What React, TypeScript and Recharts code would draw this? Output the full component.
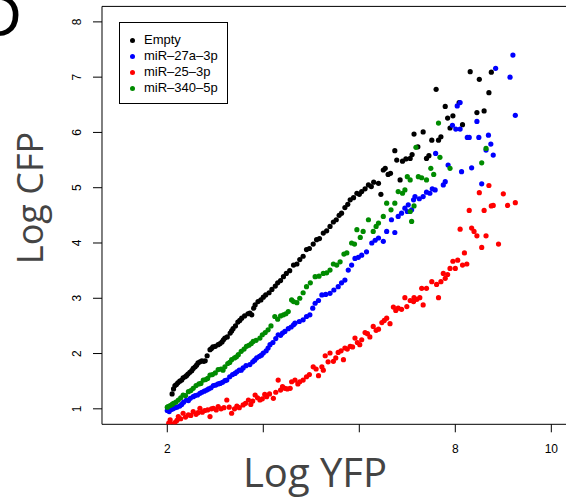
import { ReferenceArea, Scatter, ScatterChart, XAxis, YAxis } from "recharts";

type Pt = [number, number];

// log YFP / log CFP readings per construct
const emptyPts: Pt[] = [
  [2.10, 1.27], [2.13, 1.36], [2.16, 1.42], [2.19, 1.44], [2.22, 1.47], [2.26, 1.50], [2.30, 1.52], [2.33, 1.56],
  [2.37, 1.58], [2.40, 1.60], [2.43, 1.63], [2.47, 1.66], [2.51, 1.69], [2.54, 1.73], [2.58, 1.76], [2.61, 1.79],
  [2.64, 1.83], [2.68, 1.85], [2.72, 1.87], [2.76, 1.86], [2.79, 1.87], [2.83, 1.96], [2.89, 2.07], [2.92, 2.09],
  [2.95, 2.12], [3.00, 2.13], [3.06, 2.16], [3.10, 2.18], [3.14, 2.21], [3.17, 2.25], [3.20, 2.28], [3.25, 2.30],
  [3.31, 2.37], [3.34, 2.41], [3.37, 2.45], [3.42, 2.50], [3.47, 2.57], [3.51, 2.60], [3.55, 2.64], [3.61, 2.68],
  [3.68, 2.72], [3.72, 2.73], [3.76, 2.70], [3.80, 2.82], [3.83, 2.88], [3.89, 2.94], [3.95, 2.97], [4.00, 3.02],
  [4.05, 3.06], [4.12, 3.10], [4.18, 3.16], [4.25, 3.22], [4.30, 3.28], [4.36, 3.32], [4.42, 3.39], [4.48, 3.45],
  [4.55, 3.50], [4.63, 3.60], [4.70, 3.62], [4.76, 3.70], [4.83, 3.76], [4.90, 3.88], [4.96, 3.90], [5.04, 3.98],
  [5.11, 4.06], [5.17, 4.08], [5.25, 4.18], [5.32, 4.22], [5.39, 4.30], [5.46, 4.38], [5.52, 4.42], [5.58, 4.50],
  [5.63, 4.54], [5.70, 4.64], [5.76, 4.70], [5.81, 4.78], [5.88, 4.82], [5.95, 4.90], [6.00, 4.88], [6.05, 4.93],
  [6.12, 4.98], [6.19, 5.05], [6.25, 5.02], [6.30, 5.10], [6.40, 5.08], [6.45, 4.88], [6.50, 5.32], [6.54, 5.35],
  [6.60, 5.24], [6.65, 5.26], [6.74, 5.67], [6.78, 5.50], [6.85, 5.14], [6.90, 5.48], [6.97, 5.52], [7.06, 5.53],
  [7.10, 5.60], [7.14, 5.97], [7.22, 5.74], [7.33, 6.01], [7.40, 5.53], [7.45, 5.58], [7.51, 5.86], [7.60, 6.78],
  [7.65, 5.86], [7.70, 5.92], [7.79, 6.47], [7.84, 6.26], [7.89, 6.08], [7.95, 6.30], [8.08, 6.54], [8.15, 6.14],
  [8.31, 7.10], [8.45, 6.36], [8.50, 6.96], [8.60, 6.39], [8.70, 6.72], [8.75, 7.09],
];

const mir27aPts: Pt[] = [
  [2.00, 0.97], [2.04, 0.95], [2.08, 0.99], [2.12, 1.00], [2.16, 1.02], [2.20, 1.03], [2.26, 1.05], [2.30, 1.08],
  [2.34, 1.12], [2.40, 1.16], [2.44, 1.15], [2.48, 1.19], [2.54, 1.22], [2.58, 1.24], [2.63, 1.25], [2.68, 1.28],
  [2.72, 1.30], [2.77, 1.32], [2.82, 1.34], [2.86, 1.36], [2.91, 1.38], [2.96, 1.42], [3.01, 1.43], [3.06, 1.45],
  [3.10, 1.46], [3.15, 1.48], [3.20, 1.51], [3.24, 1.52], [3.30, 1.58], [3.36, 1.62], [3.41, 1.64], [3.45, 1.67],
  [3.50, 1.70], [3.54, 1.70], [3.58, 1.74], [3.64, 1.78], [3.72, 1.80], [3.78, 1.85], [3.82, 1.88], [3.86, 1.92],
  [3.92, 1.95], [3.96, 1.97], [4.00, 2.01], [4.06, 2.05], [4.10, 2.10], [4.14, 2.16], [4.20, 2.20], [4.26, 2.27],
  [4.31, 2.34], [4.36, 2.33], [4.40, 2.37], [4.45, 2.40], [4.52, 2.45], [4.58, 2.48], [4.63, 2.52], [4.66, 2.55],
  [4.75, 2.58], [4.83, 2.61], [4.90, 2.67], [4.97, 2.70], [5.03, 2.82], [5.08, 2.91], [5.15, 2.96], [5.22, 3.06],
  [5.30, 3.07], [5.39, 3.09], [5.47, 3.15], [5.56, 3.21], [5.63, 3.28], [5.70, 3.33], [5.77, 3.51], [5.84, 3.60],
  [5.91, 3.72], [5.98, 3.74], [6.05, 3.78], [6.15, 3.84], [6.26, 4.00], [6.33, 4.05], [6.40, 4.09], [6.50, 4.03],
  [6.57, 4.21], [6.67, 4.42], [6.74, 4.19], [6.81, 4.48], [6.88, 4.54], [6.95, 4.63], [7.00, 4.57], [7.02, 4.69],
  [7.09, 4.60], [7.13, 4.78], [7.16, 4.84], [7.25, 4.80], [7.33, 4.84], [7.40, 4.92], [7.47, 4.90], [7.52, 4.98],
  [7.58, 4.96], [7.59, 5.62], [7.75, 5.05], [7.79, 5.11], [7.85, 5.41], [7.94, 6.13], [8.01, 6.06], [8.04, 6.48],
  [8.10, 6.06], [8.10, 6.54], [8.13, 5.29], [8.25, 5.91], [8.29, 5.91], [8.34, 5.36], [8.45, 6.20], [8.49, 5.91],
  [8.55, 5.07], [8.64, 5.68], [8.69, 5.95], [8.74, 5.79], [8.79, 5.59], [8.84, 7.16], [9.14, 7.00], [9.20, 7.40],
  [9.25, 6.31],
];

const mir25Pts: Pt[] = [
  [2.03, 0.74], [2.06, 0.80], [2.10, 0.72], [2.16, 0.75], [2.20, 0.79], [2.23, 0.86], [2.28, 0.82], [2.33, 0.92],
  [2.38, 0.85], [2.44, 0.89], [2.49, 0.88], [2.54, 0.95], [2.60, 0.90], [2.64, 0.93], [2.68, 1.01], [2.73, 0.94],
  [2.78, 0.97], [2.84, 0.98], [2.89, 0.86], [2.92, 1.00], [2.96, 1.01], [3.02, 0.98], [3.06, 1.04], [3.12, 1.00],
  [3.18, 1.02], [3.24, 1.16], [3.29, 1.03], [3.34, 0.92], [3.40, 1.00], [3.45, 1.05], [3.50, 1.02], [3.58, 1.07],
  [3.63, 1.10], [3.69, 1.16], [3.74, 1.08], [3.78, 1.14], [3.83, 1.25], [3.88, 1.20], [3.93, 1.16], [3.98, 1.18],
  [4.03, 1.26], [4.07, 1.22], [4.13, 1.27], [4.21, 1.19], [4.26, 1.30], [4.31, 1.52], [4.36, 1.34], [4.40, 1.40],
  [4.45, 1.37], [4.50, 1.36], [4.56, 1.37], [4.59, 1.49], [4.66, 1.52], [4.72, 1.45], [4.76, 1.49], [4.83, 1.52],
  [4.90, 1.58], [4.96, 1.62], [5.04, 1.76], [5.10, 1.72], [5.15, 1.60], [5.22, 1.76], [5.25, 1.70], [5.29, 1.96],
  [5.35, 1.85], [5.39, 2.01], [5.46, 1.86], [5.51, 1.92], [5.56, 2.02], [5.62, 2.05], [5.67, 1.89], [5.70, 2.10],
  [5.75, 2.08], [5.81, 2.13], [5.86, 2.12], [5.91, 2.28], [5.96, 2.20], [6.01, 2.16], [6.05, 2.25], [6.12, 2.38],
  [6.17, 2.36], [6.22, 2.30], [6.29, 2.49], [6.35, 2.42], [6.40, 2.44], [6.47, 2.56], [6.52, 2.60], [6.57, 2.64],
  [6.64, 2.54], [6.71, 2.84], [6.76, 2.78], [6.81, 2.82], [6.88, 2.80], [6.95, 3.01], [6.99, 2.85], [7.06, 2.96],
  [7.13, 2.94], [7.14, 3.01], [7.20, 2.98], [7.26, 3.01], [7.30, 3.18], [7.33, 2.88], [7.40, 3.18], [7.51, 3.30],
  [7.61, 3.25], [7.65, 3.01], [7.70, 3.30], [7.75, 3.45], [7.79, 3.36], [7.84, 3.43], [7.89, 3.54], [7.95, 3.67],
  [8.00, 3.54], [8.05, 3.69], [8.15, 3.60], [8.19, 3.82], [8.24, 3.62], [8.10, 4.25], [8.29, 4.59], [8.34, 4.27],
  [8.39, 4.21], [8.45, 4.13], [8.50, 4.91], [8.55, 3.92], [8.60, 4.59], [8.64, 4.13], [8.70, 5.04], [8.75, 4.67],
  [8.79, 4.68], [8.90, 3.98], [9.00, 4.89], [9.09, 4.68], [9.25, 4.73],
];

const mir340Pts: Pt[] = [
  [2.00, 1.03], [2.02, 1.04], [2.06, 1.06], [2.10, 1.08], [2.13, 1.10], [2.18, 1.12], [2.23, 1.16], [2.28, 1.20],
  [2.33, 1.25], [2.38, 1.24], [2.44, 1.31], [2.49, 1.33], [2.54, 1.37], [2.60, 1.42], [2.66, 1.45], [2.70, 1.46],
  [2.75, 1.52], [2.80, 1.53], [2.84, 1.55], [2.89, 1.61], [2.94, 1.62], [3.00, 1.65], [3.06, 1.71], [3.12, 1.72],
  [3.16, 1.70], [3.20, 1.76], [3.26, 1.82], [3.30, 1.84], [3.34, 1.89], [3.40, 1.92], [3.44, 1.94], [3.48, 1.98],
  [3.54, 2.04], [3.60, 2.08], [3.65, 2.13], [3.70, 2.15], [3.75, 2.18], [3.79, 2.22], [3.85, 2.24], [3.93, 2.28],
  [3.98, 2.34], [4.04, 2.38], [4.10, 2.43], [4.16, 2.50], [4.24, 2.67], [4.30, 2.62], [4.36, 2.68], [4.42, 2.70],
  [4.47, 2.72], [4.52, 2.76], [4.59, 2.97], [4.63, 2.94], [4.70, 2.92], [4.76, 3.00], [4.83, 3.10], [4.90, 3.21],
  [4.98, 3.28], [5.08, 3.39], [5.16, 3.40], [5.25, 3.45], [5.32, 3.46], [5.39, 3.51], [5.46, 3.62], [5.53, 3.60],
  [5.60, 3.66], [5.68, 3.80], [5.74, 3.82], [5.84, 4.00], [5.90, 3.98], [5.95, 4.24], [6.02, 4.10], [6.08, 4.21],
  [6.19, 4.42], [6.29, 4.21], [6.35, 4.30], [6.40, 4.36], [6.50, 4.48], [6.57, 4.72], [6.66, 4.60], [6.74, 4.72],
  [6.81, 4.93], [6.90, 4.90], [6.95, 4.96], [7.00, 5.20], [7.06, 5.14], [7.06, 4.57], [7.09, 4.39], [7.14, 4.67],
  [7.18, 5.73], [7.23, 5.20], [7.30, 5.18], [7.40, 5.14], [7.49, 5.35], [7.55, 5.24], [7.65, 6.17], [7.68, 5.55],
  [7.89, 5.35], [8.55, 5.45], [8.64, 5.71],
];

const seriesNames = ["Empty", "miR–27a–3p", "miR–25–3p", "miR–340–5p"];
const seriesColors = ["#000000", "#0000ff", "#ff0000", "#008b00"];
const seriesPts = [emptyPts, mir27aPts, mir25Pts, mir340Pts];

const xTicks = [2, 4, 6, 8, 10];
const xTickLabels = ["2", "", "", "8", "10"];
const yTicks = [1, 2, 3, 4, 5, 6, 7, 8];

const X_DOMAIN: [number, number] = [0.64, 10.36];
const Y_DOMAIN: [number, number] = [0.72, 8.28];

const tickFont = "'Liberation Sans', Arial, Helvetica, sans-serif";
const titleFont = "'Open Sans', 'Noto Sans', sans-serif";

const XTick = (props: any) => {
  const { x, y, payload } = props;
  const label = xTickLabels[xTicks.indexOf(payload.value)] ?? "";
  return (
    <text x={x} y={y + 21} textAnchor="middle" fontSize={12} fontFamily={tickFont} fill="#000">
      {label}
    </text>
  );
};

const YTick = (props: any) => {
  const { x, y, payload } = props;
  const bx = x - 11.5;
  return (
    <text
      x={bx}
      y={y}
      transform={`rotate(-90, ${bx}, ${y})`}
      textAnchor="middle"
      fontSize={12}
      fontFamily={tickFont}
      fill="#000"
    >
      {payload.value}
    </text>
  );
};

const dot = (color: string) => (props: any) => (
  <circle cx={props.cx} cy={props.cy} r={2.6} fill={color} />
);

export default function App() {
  return (
    <div style={{ position: "absolute", left: 0, top: 0, width: 566, height: 499, overflow: "hidden", background: "#fff" }}>
      <ScatterChart width={600} height={499} margin={{ top: 6.4, right: 31.4, bottom: 44.7, left: 72 }}>
        <XAxis
          type="number"
          dataKey="x"
          domain={X_DOMAIN}
          ticks={xTicks}
          height={30}
          axisLine={false}
          tickSize={8}
          tickMargin={0}
          tickLine={{ stroke: "#000" }}
          tick={XTick}
          interval={0}
          allowDataOverflow
        />
        <YAxis
          type="number"
          dataKey="y"
          domain={Y_DOMAIN}
          ticks={yTicks}
          width={30}
          axisLine={false}
          tickSize={9}
          tickMargin={0}
          tickLine={{ stroke: "#000" }}
          tick={YTick}
          interval={0}
          allowDataOverflow
        />
        <ReferenceArea
          x1={X_DOMAIN[0]}
          x2={X_DOMAIN[1]}
          y1={Y_DOMAIN[0]}
          y2={Y_DOMAIN[1]}
          fill="none"
          stroke="#000"
          strokeWidth={1}
          ifOverflow="visible"
        />
        {seriesPts.map((pts, i) => (
          <Scatter
            key={seriesNames[i]}
            name={seriesNames[i]}
            data={pts.map(([x, y]) => ({ x, y }))}
            fill={seriesColors[i]}
            shape={dot(seriesColors[i])}
            isAnimationActive={false}
          />
        ))}
      </ScatterChart>

      {/* legend box */}
      <div
        style={{
          position: "absolute",
          left: 119,
          top: 22,
          width: 107,
          height: 80,
          border: "1px solid #000",
          background: "#fff",
          fontFamily: tickFont,
          fontSize: 13,
          color: "#000",
        }}
      >
        {seriesNames.map((name, i) => (
          <div key={name} style={{ position: "absolute", left: 0, top: 9 + i * 16, height: 16, lineHeight: "16px", whiteSpace: "nowrap" }}>
            <span
              style={{
                position: "absolute",
                left: 10,
                top: 5.5,
                width: 5.2,
                height: 5.2,
                borderRadius: "50%",
                background: seriesColors[i],
              }}
            />
            <span style={{ position: "absolute", left: 24, top: 0 }}>{name}</span>
          </div>
        ))}
      </div>

      {/* panel letter and axis titles */}
      <div
        style={{
          position: "absolute",
          left: -22,
          top: -14,
          fontFamily: tickFont,
          fontSize: 60,
          lineHeight: "60px",
          color: "#000",
        }}
      >
        D
      </div>
      <div
        style={{
          position: "absolute",
          left: 315,
          top: 472,
          transform: "translate(-50%, -50%)",
          fontFamily: titleFont,
          fontSize: 40,
          lineHeight: "40px",
          color: "#444",
          whiteSpace: "nowrap",
        }}
      >
        Log YFP
      </div>
      <div
        style={{
          position: "absolute",
          left: 30,
          top: 198,
          transform: "translate(-50%, -50%) rotate(-90deg)",
          fontFamily: titleFont,
          fontSize: 36,
          lineHeight: "36px",
          color: "#444",
          whiteSpace: "nowrap",
        }}
      >
        Log CFP
      </div>
    </div>
  );
}
